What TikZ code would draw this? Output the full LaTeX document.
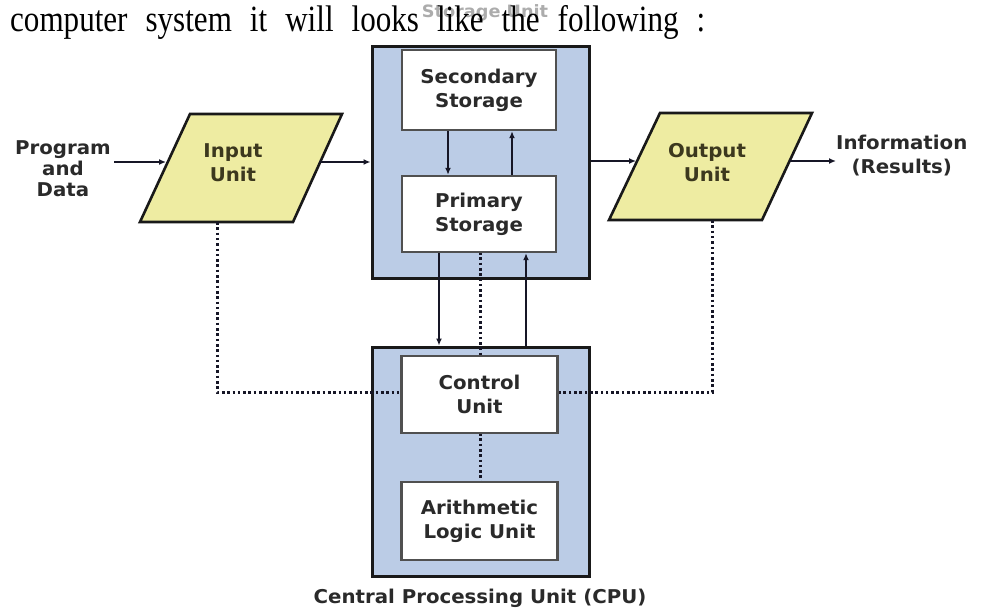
\documentclass[tikz,border=0pt]{standalone}
\usepackage{fontspec}
\setmainfont{Liberation Serif}
\newfontfamily\introfont[FakeStretch=0.84]{Liberation Serif}
\newfontfamily\labfont[FakeStretch=1.04]{DejaVu Sans}
\usetikzlibrary{arrows.meta}

\definecolor{unitblue}{RGB}{187,204,230}
\definecolor{ioyellow}{RGB}{238,236,162}
\definecolor{wire}{RGB}{22,22,38}
\definecolor{boxedge}{RGB}{80,80,80}
\definecolor{labgrey}{RGB}{42,42,42}
\definecolor{iotext}{RGB}{60,56,30}

\begin{document}
\begin{tikzpicture}[x=1pt,y=-1pt,
  lab/.style={font=\labfont\bfseries\fontsize{19}{24}\selectfont, text=labgrey, align=center},
  unitbox/.style={draw=black!90, line width=3pt, fill=unitblue, inner sep=0pt},
  innerbox/.style={draw=boxedge, line width=2.4pt, fill=white, inner sep=0pt, lab},
  iobox/.style={draw=black!90, line width=2.6pt, fill=ioyellow, line join=miter},
  flow/.style={draw=wire, line width=2.2pt, -{Latex[length=7pt,width=6pt]}},
  signal/.style={draw=wire, line width=3pt, dash pattern=on 2.6pt off 2.7pt},
]
\useasboundingbox (0,0) rectangle (984,612);
\fill[white] (0,0) rectangle (984,612);

% heading line with the unit caption underneath it
\node[lab, text=gray!65, font=\labfont\bfseries\fontsize{17}{20}\selectfont] (stcap) at (485,13) {Storage Unit};
\node[anchor=base west, inner sep=0pt, font=\introfont\fontsize{37}{40}\selectfont] (intro) at (10,32)
  {\makebox[695pt][s]{computer system it will looks like the following :}};

% outer units
\node[unitbox, minimum width=217pt, minimum height=231pt] (storage) at (480.5,162.5) {};
\node[unitbox, minimum width=217pt, minimum height=229pt] (cpu) at (480.5,461.5) {};
\node[lab] (cpucap) at (480,598) {Central Processing Unit (CPU)};

% input and output parallelograms
\path[iobox] (140,222) -- (190,114) -- (342,114) -- (293,222) -- cycle;
\node[lab, text=iotext] (input) at (233,163) {Input\\Unit};
\coordinate (inW) at (166,162);
\coordinate (inE) at (319,162);
\coordinate (inS) at (217,222);

\path[iobox] (609,220) -- (660,113) -- (812,113) -- (762,220) -- cycle;
\node[lab, text=iotext] (output) at (707,163) {Output\\Unit};
\coordinate (outW) at (636,161);
\coordinate (outE) at (789,161);
\coordinate (outS) at (712,220);

\node[lab, font=\labfont\bfseries\fontsize{19}{21}\selectfont] (source) at (63,169) {Program\\and\\Data};
\node[lab, anchor=west, inner sep=0pt] (info) at (836,156) {Information\\(Results)};

% signal paths (dotted) and data paths
\draw[signal] (inS) -- (inS |- 0,392) -- (402,392);
\draw[signal] (outS) -- (outS |- 0,392) -- (557,392);
\draw[signal] (480,252) -- (480,356);
\draw[signal] (480,433) -- (480,482);

\draw[flow] (source.east |- inW) -- (inW);
\draw[flow] (inE) -- (storage.west |- inE);
\draw[flow] (storage.east |- outW) -- (outW);
\draw[flow] (outE) -- (info.west |- outE);

% inner boxes
\node[innerbox, minimum width=154pt, minimum height=80pt] (secondary) at (479,90) {Secondary\\Storage};
\node[innerbox, minimum width=154pt, minimum height=76pt] (primary) at (479,214) {Primary\\Storage};
\node[innerbox, minimum width=156pt, minimum height=77pt] (control) at (479.5,394.5) {Control\\Unit};
\node[innerbox, minimum width=156pt, minimum height=78pt] (alu) at (479.5,521) {Arithmetic\\Logic Unit};

\draw[flow] ([xshift=-31pt]secondary.south) -- ([xshift=-31pt]primary.north);
\draw[flow] ([xshift=33pt]primary.north) -- ([xshift=33pt]secondary.south);
\draw[flow] ([xshift=-40pt]primary.south) -- ([xshift=-40pt]primary.south |- cpu.north);
\draw[flow] ([xshift=47pt]primary.south |- cpu.north) -- ([xshift=47pt]primary.south);
\end{tikzpicture}
\end{document}
